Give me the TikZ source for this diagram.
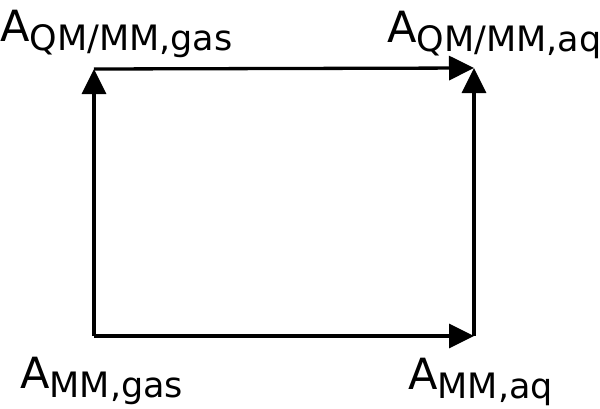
\documentclass[tikz,border=0pt]{standalone}
\usepackage{fontspec}
\setmainfont{DejaVu Sans}
\usetikzlibrary{arrows.meta}
\newcommand{\bigA}[1]{\fontsize{43}{50}\selectfont A\raisebox{-9pt}{\fontsize{35}{40}\selectfont #1}}
\begin{document}
\begin{tikzpicture}[x=1pt,y=-1pt,
  conn/.style={line width=3.3pt,-{Triangle[length=25pt,width=24pt]}},
  lab/.style={inner sep=0pt,anchor=base west}]
\useasboundingbox (0,0) rectangle (600,408);
\coordinate (bl) at (94,336);
\coordinate (tl) at (94,69);
\coordinate (tr) at (474,68);
\coordinate (br) at (474,336);
\draw[conn] (bl) -- (tl);
\draw[conn] (tl) -- (tr);
\draw[conn] (bl) -- (br);
\draw[conn] (br) -- (tr);
\node[lab] (ltl) at (0,41) {\bigA{QM/MM,gas}};
\node[lab] (ltr) at (387,42) {\bigA{QM/MM,aq}};
\node[lab] (lbl) at (20,388) {\bigA{MM,gas}};
\node[lab] (lbr) at (408,389) {\bigA{MM,aq}};
\end{tikzpicture}
\end{document}
